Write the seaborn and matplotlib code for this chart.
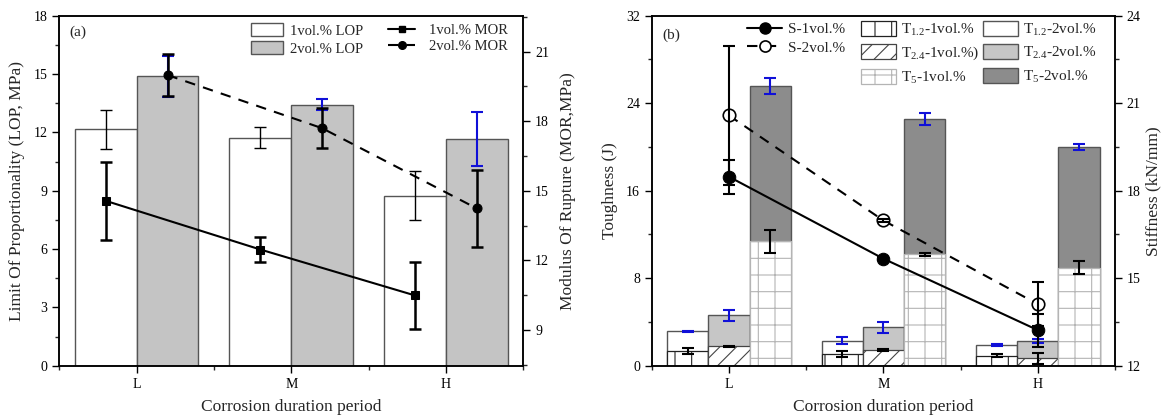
import numpy as np
import pandas as pd
import matplotlib
matplotlib.use("Agg")
import matplotlib.pyplot as plt
import seaborn as sns
from matplotlib.ticker import MultipleLocator
from matplotlib.patches import Patch
from matplotlib.lines import Line2D

# ---------------- data ----------------
periods = ["L", "M", "H"]

# panel (a)
lop_1 = [12.15, 11.72, 8.74]
lop_1_err = [1.00, 0.54, 1.27]
lop_2 = [14.88, 13.43, 11.68]
lop_2_err = [1.07, 0.27, 1.39]
mor_1 = [14.57, 12.47, 10.49]
mor_1_err = [1.69, 0.53, 1.45]
mor_2 = [19.99, 17.70, 14.24]
mor_2_err = [0.90, 0.87, 1.65]

# panel (b)
t_types = ["T1.2", "T2.4", "T5"]
t12_1 = [1.36, 1.07, 0.92]
t12_1_err = [0.30, 0.30, 0.15]
t12_2 = [3.15, 2.29, 1.92]
t12_2_err = [0.05, 0.30, 0.08]
t24_1 = [1.77, 1.43, 0.67]
t24_1_err = [0.04, 0.12, 0.50]
t24_2 = [4.60, 3.50, 2.29]
t24_2_err = [0.47, 0.53, 0.17]
t5_1 = [11.37, 10.18, 8.96]
t5_1_err = [1.02, 0.15, 0.60]
t5_2 = [25.57, 22.58, 19.99]
t5_2_err = [0.73, 0.57, 0.25]
s_1 = [18.48, 15.67, 13.22]
s_1_err = [0.58, 0.05, 0.57]
s_2 = [20.58, 16.98, 14.11]
s_2_err = [2.37, 0.05, 0.76]

# ---------------- style ----------------
sns.set_theme(style="ticks")
plt.rcParams["font.family"] = ["Liberation Serif", "DejaVu Serif"]
plt.rcParams["mathtext.default"] = "regular"
plt.rcParams["hatch.linewidth"] = 0.8
plt.rcParams["axes.linewidth"] = 1.1
plt.rcParams["axes.edgecolor"] = "black"

BLUE = "#1010d8"
EDGE = "#555555"
TICK_FS = 10
LABEL_FS = 12.5

fig = plt.figure(figsize=(11.64, 4.18), dpi=100)
axA = fig.add_axes([0.0509, 0.1251, 0.3986, 0.8373])
axB = fig.add_axes([0.5599, 0.1251, 0.3980, 0.8373])


def style_axis(ax, ax2):
    for a in (ax, ax2):
        a.tick_params(which="major", direction="out", length=5, width=1.0,
                      labelsize=TICK_FS, colors="black")
        a.tick_params(which="minor", direction="out", length=3, width=1.0)
    ax.xaxis.set_minor_locator(MultipleLocator(0.5))
    ax.tick_params(axis="x", which="both", top=False)


# ================= panel (a) =================
dfA = pd.DataFrame({
    "period": periods * 2,
    "group": ["1vol.% LOP"] * 3 + ["2vol.% LOP"] * 3,
    "value": lop_1 + lop_2,
})
sns.barplot(data=dfA, x="period", y="value", hue="group", order=periods,
            hue_order=["1vol.% LOP", "2vol.% LOP"],
            palette=["white", "#c4c4c4"], saturation=1, edgecolor=EDGE,
            linewidth=1.0, errorbar=None, legend=False, width=0.8, gap=0,
            ax=axA)

xA1 = [r.get_x() + r.get_width() / 2 for r in axA.containers[0]]
xA2 = [r.get_x() + r.get_width() / 2 for r in axA.containers[1]]
axA.errorbar(xA1, lop_1, yerr=lop_1_err, fmt="none", ecolor="black",
             elinewidth=1.0, capsize=4, capthick=1.0, zorder=3)
axA.errorbar(xA2, lop_2, yerr=lop_2_err, fmt="none", ecolor=BLUE,
             elinewidth=1.5, capsize=4, capthick=1.5, zorder=3)

axA.set_ylim(0, 18)
axA.set_yticks(np.arange(0, 19, 3))
axA.yaxis.set_minor_locator(MultipleLocator(1.5))
axA.set_xlim(-0.5, 2.5)
axA.set_xlabel("Corrosion duration period", fontsize=LABEL_FS, labelpad=6)
axA.set_ylabel("Limit Of Proportionality (LOP, MPa)", fontsize=LABEL_FS, labelpad=6)

axA2 = axA.twinx()
sns.lineplot(x=xA1, y=mor_1, ax=axA2, color="black", linewidth=1.5,
             marker="s", markersize=5.5, markeredgecolor="black", legend=False)
sns.lineplot(x=xA2, y=mor_2, ax=axA2, color="black", linewidth=1.5,
             linestyle=(0, (5, 4)), marker="o", markersize=6.5,
             markeredgecolor="black", legend=False)
axA2.errorbar(xA1, mor_1, yerr=mor_1_err, fmt="none", ecolor="black",
              elinewidth=1.8, capsize=4, capthick=1.8, zorder=4)
axA2.errorbar(xA2, mor_2, yerr=mor_2_err, fmt="none", ecolor="black",
              elinewidth=1.8, capsize=4, capthick=1.8, zorder=4)
axA2.set_ylim(7.46, 22.55)
axA2.set_yticks([9, 12, 15, 18, 21])
axA2.yaxis.set_minor_locator(MultipleLocator(1.5))
axA2.set_ylabel("Modulus Of Rupture (MOR,MPa)", fontsize=LABEL_FS, labelpad=8)
axA2.set_xlim(-0.5, 2.5)
style_axis(axA, axA2)

axA.text(0.021, 0.953, "(a)", transform=axA.transAxes, fontsize=11,
         va="center", ha="left")

hA_bars = [Patch(facecolor="white", edgecolor=EDGE, linewidth=1.0, label="1vol.% LOP"),
           Patch(facecolor="#c4c4c4", edgecolor=EDGE, linewidth=1.0, label="2vol.% LOP")]
legA1 = axA2.legend(handles=hA_bars, loc="upper left", bbox_to_anchor=(0.413, 0.978),
                    frameon=False, fontsize=10.5, handlelength=2.2, handleheight=0.95,
                    handletextpad=0.45, labelspacing=0.25, borderpad=0, borderaxespad=0)
axA2.add_artist(legA1)
hA_lines = [Line2D([], [], color="black", lw=1.5, marker="s", ms=5, label="1vol.% MOR"),
            Line2D([], [], color="black", lw=1.5, ls=(0, (5, 4)), marker="o", ms=5.5,
                   label="2vol.% MOR")]
axA2.legend(handles=hA_lines, loc="upper left", bbox_to_anchor=(0.708, 0.978),
            frameon=False, fontsize=10.5, handlelength=1.9, handletextpad=0.9,
            labelspacing=0.25, borderpad=0, borderaxespad=0)

# ================= panel (b) =================
df2 = pd.DataFrame({
    "period": periods * 3,
    "type": sum([[t] * 3 for t in t_types], []),
    "value": t12_2 + t24_2 + t5_2,
})
df1 = pd.DataFrame({
    "period": periods * 3,
    "type": sum([[t] * 3 for t in t_types], []),
    "value": t12_1 + t24_1 + t5_1,
})
col2 = {"T1.2": "white", "T2.4": "#c6c6c6", "T5": "#8c8c8c"}
sns.barplot(data=df2, x="period", y="value", hue="type", order=periods,
            hue_order=t_types, palette=col2, saturation=1, edgecolor=EDGE,
            linewidth=1.0, errorbar=None, legend=False, width=0.8, gap=0, ax=axB)
n_first = len(axB.containers)
sns.barplot(data=df1, x="period", y="value", hue="type", order=periods,
            hue_order=t_types, palette={t: "white" for t in t_types}, saturation=1,
            edgecolor=EDGE, linewidth=1.0, errorbar=None, legend=False, width=0.8,
            gap=0, ax=axB)

hatches = {"T1.2": ("|", "#222222"), "T2.4": ("//", "#444444"), "T5": ("+", "#b4b4b4")}
for cont, t in zip(axB.containers[n_first:], t_types):
    h, c = hatches[t]
    for r in cont:
        r.set_hatch(h)
        r.set_edgecolor(c)
        r.set_linewidth(0.9)

xb = {t: [r.get_x() + r.get_width() / 2 for r in cont]
      for cont, t in zip(axB.containers[:n_first], t_types)}
for t, v2, e2, v1, e1 in [("T1.2", t12_2, t12_2_err, t12_1, t12_1_err),
                          ("T2.4", t24_2, t24_2_err, t24_1, t24_1_err),
                          ("T5", t5_2, t5_2_err, t5_1, t5_1_err)]:
    axB.errorbar(xb[t], v2, yerr=e2, fmt="none", ecolor=BLUE, elinewidth=1.5,
                 capsize=4, capthick=1.5, zorder=3)
    axB.errorbar(xb[t], v1, yerr=e1, fmt="none", ecolor="black", elinewidth=1.5,
                 capsize=4, capthick=1.5, zorder=3)

axB.set_ylim(0, 32)
axB.set_yticks(np.arange(0, 33, 8))
axB.yaxis.set_minor_locator(MultipleLocator(4))
axB.set_xlim(-0.5, 2.5)
axB.set_xlabel("Corrosion duration period", fontsize=LABEL_FS, labelpad=6)
axB.set_ylabel("Toughness (J)", fontsize=LABEL_FS, labelpad=6)

axB2 = axB.twinx()
xs = xb["T2.4"]
axB2.errorbar(xs, s_1, yerr=s_1_err, fmt="none", ecolor="black",
              elinewidth=1.5, capsize=4, capthick=1.5, zorder=3)
axB2.errorbar(xs, s_2, yerr=s_2_err, fmt="none", ecolor="black",
              elinewidth=1.5, capsize=4, capthick=1.5, zorder=3)
sns.lineplot(x=xs, y=s_1, ax=axB2, color="black", linewidth=1.5, marker="o",
             markersize=9, markeredgecolor="black", legend=False)
sns.lineplot(x=xs, y=s_2, ax=axB2, color="black", linewidth=1.5,
             linestyle=(0, (5, 4)), marker="o", markersize=9,
             markerfacecolor="white", markeredgecolor="black",
             markeredgewidth=1.2, legend=False)
axB2.set_ylim(12, 24)
axB2.set_yticks([12, 15, 18, 21, 24])
axB2.yaxis.set_minor_locator(MultipleLocator(1.5))
axB2.set_ylabel("Stiffness (kN/mm)", fontsize=LABEL_FS, labelpad=3)
axB2.set_xlim(-0.5, 2.5)
style_axis(axB, axB2)

axB.text(0.022, 0.945, "(b)", transform=axB.transAxes, fontsize=11,
         va="center", ha="left")

hB_lines = [Line2D([], [], color="black", lw=1.5, marker="o", ms=8, label="S-1vol.%"),
            Line2D([], [], color="black", lw=1.5, ls=(0, (5, 4)), marker="o", ms=8,
                   mfc="white", mew=1.2, label="S-2vol.%")]
legB1 = axB2.legend(handles=hB_lines, loc="upper left", bbox_to_anchor=(0.206, 0.98),
                    frameon=False, fontsize=11, handlelength=2.3, handletextpad=0.35,
                    labelspacing=0.3, borderpad=0, borderaxespad=0)
axB2.add_artist(legB1)
hB_bars = [
    Patch(facecolor="white", edgecolor="#222222", hatch="|", lw=0.9, label="T$_{1.2}$-1vol.%"),
    Patch(facecolor="white", edgecolor="#444444", hatch="//", lw=0.9, label="T$_{2.4}$-1vol.%)"),
    Patch(facecolor="white", edgecolor="#b4b4b4", hatch="+", lw=0.9, label="T$_{5}$-1vol.%"),
    Patch(facecolor="white", edgecolor=EDGE, lw=1.0, label="T$_{1.2}$-2vol.%"),
    Patch(facecolor="#c6c6c6", edgecolor=EDGE, lw=1.0, label="T$_{2.4}$-2vol.%"),
    Patch(facecolor="#8c8c8c", edgecolor=EDGE, lw=1.0, label="T$_{5}$-2vol.%"),
]
axB2.legend(handles=hB_bars, loc="upper left", bbox_to_anchor=(0.452, 0.985),
            ncol=2, frameon=False, fontsize=11, handlelength=2.3, handleheight=1.1,
            handletextpad=0.3, labelspacing=0.45, columnspacing=0.25,
            borderpad=0, borderaxespad=0)

fig.savefig("out.png", dpi=100)
